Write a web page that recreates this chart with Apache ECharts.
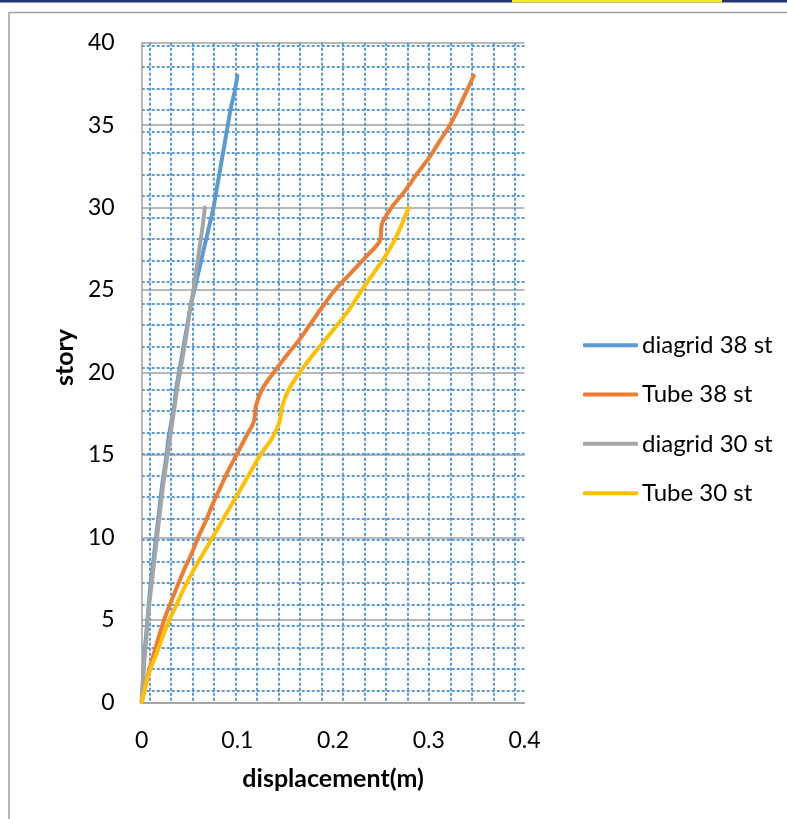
<!DOCTYPE html>
<html>
<head>
<meta charset="utf-8">
<script src="https://cdn.jsdelivr.net/npm/echarts@6/dist/echarts.min.js"></script>
<style>
html,body{margin:0;padding:0;background:#fff;}
#c{width:787px;height:819px;}
</style>
</head>
<body>
<div id="c"></div>
<script>
// ---- data ----
const seriesNames = ['diagrid 38 st', 'Tube 38 st', 'diagrid 30 st', 'Tube 30 st'];
const stories38 = [0,1,2,3,4,5,6,7,8,9,10,11,12,13,14,15,16,17,18,19,20,21,22,23,24,25,26,27,28,29,30,31,32,33,34,35,36,37,38];
const stories30 = [0,1,2,3,4,5,6,7,8,9,10,11,12,13,14,15,16,17,18,19,20,21,22,23,24,25,26,27,28,29,30];
const diagrid38 = [0,0.001,0.002,0.003,0.0045,0.006,0.0075,0.009,0.011,0.013,0.015,0.017,0.019,0.021,0.0235,0.026,0.028,0.031,0.034,0.036,0.039,0.042,0.045,0.048,0.051,0.055,0.059,0.063,0.067,0.071,0.075,0.078,0.081,0.084,0.087,0.090,0.093,0.097,0.100];
const tube38 = [0,0.004,0.008,0.013,0.018,0.0234,0.030,0.037,0.044,0.052,0.059,0.067,0.074,0.082,0.090,0.099,0.108,0.117,0.1195,0.126,0.138,0.151,0.165,0.177,0.189,0.202,0.218,0.234,0.249,0.251,0.261,0.275,0.287,0.300,0.311,0.322,0.331,0.339,0.347];
const diagrid30 = [0,0.001,0.002,0.0035,0.005,0.006,0.008,0.010,0.012,0.014,0.016,0.018,0.020,0.022,0.0245,0.027,0.0295,0.032,0.0345,0.037,0.040,0.043,0.046,0.0485,0.051,0.054,0.0565,0.059,0.0615,0.064,0.066];
const tube30 = [0,0.004,0.009,0.016,0.022,0.029,0.037,0.045,0.054,0.064,0.074,0.084,0.094,0.104,0.114,0.124,0.136,0.144,0.147,0.154,0.165,0.178,0.192,0.206,0.219,0.230,0.242,0.254,0.264,0.272,0.279];
const xTickLabels = ['0','0.1','0.2','0.3','0.4'];
const yTickLabels = ['0','5','10','15','20','25','30','35','40'];

// ---- layout ----
const G = {left:141.7, right:787-524.5, top:42.7, bottom:819-702.3};
const PAT = 21.5, PATX0 = 7.6, PATY0 = 11.6; // background dotted pattern of the plot area (pixels)
const NX = 19, NY = 32; // pattern cells spanned by the helper grids
const colors = ['#5B9BD5','#ED7D31','#A5A5A5','#FFC000'];
const FONT = 'Lato, "Noto Sans", sans-serif';

function pairs(xs, ys){ return xs.map((v,i)=>[v, ys[i]]); }
const dataSets = [pairs(diagrid38, stories38), pairs(tube38, stories38), pairs(diagrid30, stories30), pairs(tube30, stories30)];

// helper grids used only to draw the dotted background pattern
const g1Left = G.left + PATX0 - PAT;
const g1 = {left:g1Left, right:787 - (g1Left + NX*PAT), top:G.top, bottom:G.bottom, z:1};
const g2Bottom = G.bottom + PATY0 - PAT;
const g2 = {left:G.left, right:G.right, bottom:g2Bottom, top:819 - g2Bottom - NY*PAT, z:1};
const catsX = Array.from({length:NX+1}, (_,i)=>String(i));
const catsY = Array.from({length:NY+1}, (_,i)=>String(i));

const chart = echarts.init(document.getElementById('c'), null, {renderer:'canvas'});
const dotted = {color:'#5B9BD5', width:2, type:[3,2]};
const hidden = {axisLine:{show:false}, axisTick:{show:false}, axisLabel:{show:false}, splitLine:{show:false}};

chart.setOption({
  animation:false,
  backgroundColor:'#fff',
  textStyle:{fontFamily:FONT},
  graphic:[
    {type:'rect', shape:{x:0,y:0,width:787,height:2.5}, style:{fill:'#253371'}, silent:true},
    {type:'rect', shape:{x:512,y:0,width:210,height:2.5}, style:{fill:'#F2E82E'}, silent:true},
    {type:'rect', shape:{x:9,y:12.5,width:900,height:900}, style:{fill:'none', stroke:'#A0A0A0', lineWidth:1.5}, silent:true}
  ],
  grid:[
    {left:G.left, right:G.right, top:G.top, bottom:G.bottom, z:3},
    g1, g2
  ],
  legend:{
    orient:'vertical', left:583, top:333, padding:0,
    itemWidth:55, itemHeight:4, itemGap:24.8,
    icon:'roundRect',
    selectedMode:false,
    textStyle:{fontSize:24, color:'#000', fontFamily:FONT, lineHeight:24.5, padding:[0,0,0,-1]},
    data:seriesNames
  },
  xAxis:[{
    gridIndex:0, type:'value', min:0, max:0.4, interval:0.1,
    name:'displacement(m)', nameLocation:'middle', nameGap:64,
    nameTextStyle:{fontSize:25, fontWeight:'bold', color:'#000', fontFamily:FONT},
    axisLine:{show:true, lineStyle:{color:'#A0A0A0', width:1.5}},
    axisTick:{show:false},
    axisLabel:{fontSize:23, color:'#000', margin:27, fontFamily:FONT,
      formatter:(v)=>xTickLabels[Math.round(v*10)]},
    splitLine:{show:false}
  },Object.assign({}, hidden, {
    gridIndex:1, type:'category', data:catsX, boundaryGap:false,
    splitLine:{show:true, interval:0, showMinLine:false, showMaxLine:false, lineStyle:dotted}
  }),Object.assign({}, hidden, {
    gridIndex:2, type:'value', min:0, max:10, interval:5
  })],
  yAxis:[{
    gridIndex:0, type:'value', min:0, max:40, interval:5,
    name:'story', nameLocation:'middle', nameGap:64,
    nameTextStyle:{fontSize:25, fontWeight:'bold', color:'#000', fontFamily:FONT, padding:[0,0,0,30]},
    axisLine:{show:true, lineStyle:{color:'#A0A0A0', width:1.5}},
    axisTick:{show:false},
    axisLabel:{fontSize:23, color:'#000', margin:27, fontFamily:FONT,
      formatter:(v)=>yTickLabels[Math.round(v/5)]},
    splitLine:{show:true, lineStyle:{color:'#A0A0A0', width:1.5}}
  },Object.assign({}, hidden, {
    gridIndex:1, type:'value', min:0, max:10, interval:5
  }),Object.assign({}, hidden, {
    gridIndex:2, type:'category', data:catsY, boundaryGap:false,
    splitLine:{show:true, interval:0, showMinLine:false, showMaxLine:false, lineStyle:dotted}
  })],
  series:dataSets.map((d,i)=>({
    name:seriesNames[i], type:'line', data:d,
    xAxisIndex:0, yAxisIndex:0,
    smooth:0.3,
    symbol:'none', showSymbol:false,
    lineStyle:{color:colors[i], width:4, cap:'round'},
    itemStyle:{color:colors[i]},
    z:5+i
  }))
});
</script>
</body>
</html>
